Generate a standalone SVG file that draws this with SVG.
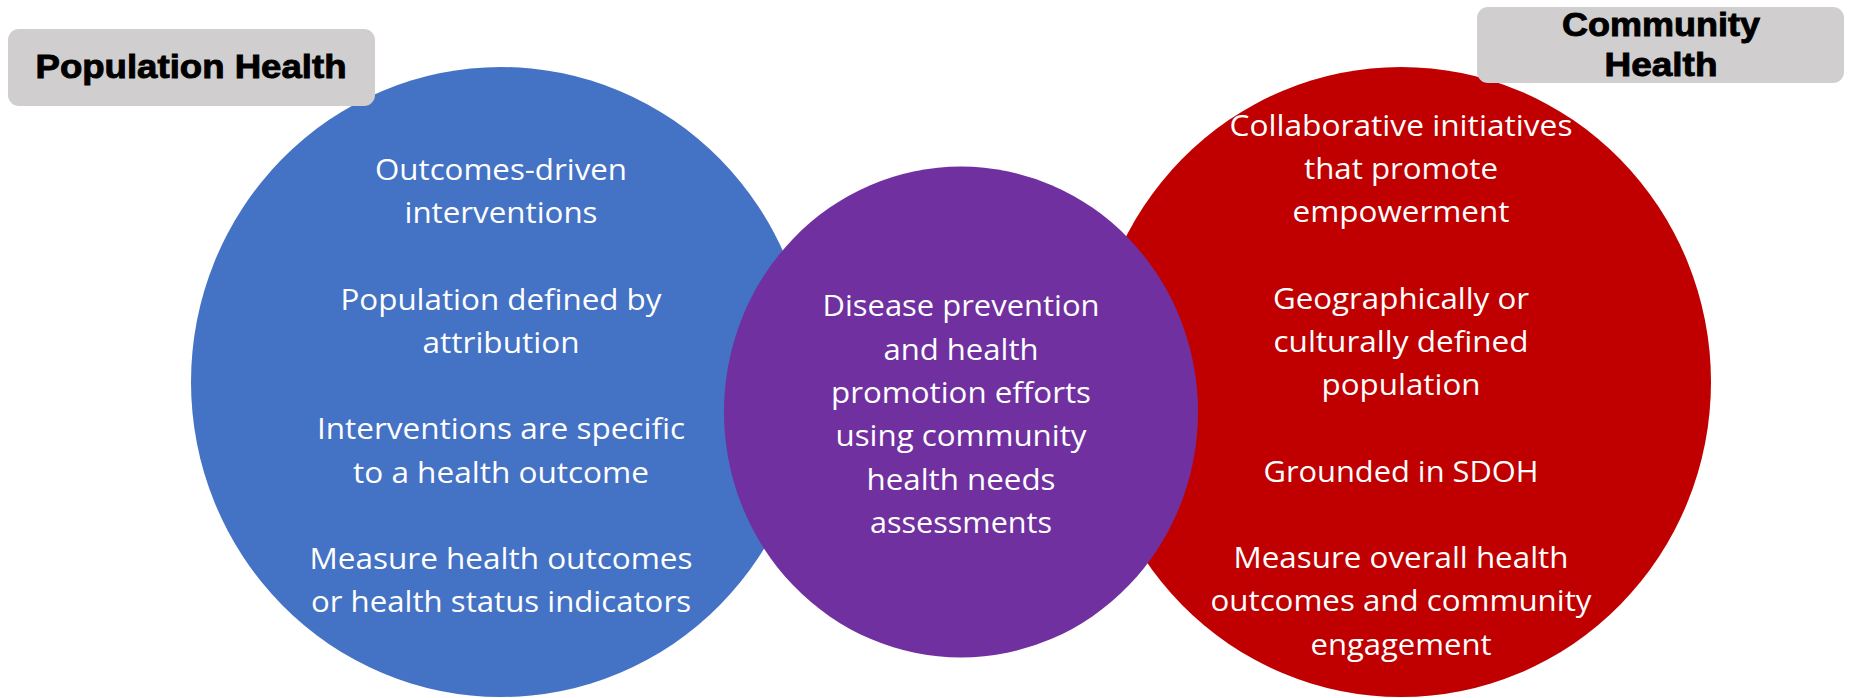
<svg xmlns="http://www.w3.org/2000/svg" width="1851" height="698" viewBox="0 0 1851 698">
<style>
.t{font-family:"Open Sans","Liberation Sans",sans-serif;font-size:29px;fill:#ffffff;text-anchor:middle}
.h{font-family:"Liberation Sans",Arial,sans-serif;font-weight:bold;font-size:33px;fill:#000000;stroke:#000000;stroke-width:0.9;text-anchor:middle}
.box{fill:#D0CECE}
</style>
<rect width="1851" height="698" fill="#ffffff"/>
<g id="population-health-circle">
<ellipse cx="501" cy="382" rx="310" ry="315" fill="#4472C4"/>
<text class="t" x="501" y="180" textLength="252" lengthAdjust="spacingAndGlyphs">Outcomes-driven</text>
<text class="t" x="501" y="223" textLength="193" lengthAdjust="spacingAndGlyphs">interventions</text>
<text class="t" x="501" y="309.5" textLength="321" lengthAdjust="spacingAndGlyphs">Population defined by</text>
<text class="t" x="501" y="352.5" textLength="157" lengthAdjust="spacingAndGlyphs">attribution</text>
<text class="t" x="501" y="439" textLength="368" lengthAdjust="spacingAndGlyphs">Interventions are specific</text>
<text class="t" x="501" y="482.5" textLength="296" lengthAdjust="spacingAndGlyphs">to a health outcome</text>
<text class="t" x="501" y="568.5" textLength="383" lengthAdjust="spacingAndGlyphs">Measure health outcomes</text>
<text class="t" x="501" y="612" textLength="380" lengthAdjust="spacingAndGlyphs">or health status indicators</text>
</g>
<g id="community-health-circle">
<ellipse cx="1401" cy="382" rx="310" ry="315" fill="#C00000"/>
<text class="t" x="1401" y="136" textLength="343" lengthAdjust="spacingAndGlyphs">Collaborative initiatives</text>
<text class="t" x="1401" y="179" textLength="194" lengthAdjust="spacingAndGlyphs">that promote</text>
<text class="t" x="1401" y="222" textLength="217" lengthAdjust="spacingAndGlyphs">empowerment</text>
<text class="t" x="1401" y="308.5" textLength="256" lengthAdjust="spacingAndGlyphs">Geographically or</text>
<text class="t" x="1401" y="352" textLength="255" lengthAdjust="spacingAndGlyphs">culturally defined</text>
<text class="t" x="1401" y="395" textLength="159" lengthAdjust="spacingAndGlyphs">population</text>
<text class="t" x="1401" y="481.5" textLength="275" lengthAdjust="spacingAndGlyphs">Grounded in SDOH</text>
<text class="t" x="1401" y="568" textLength="335" lengthAdjust="spacingAndGlyphs">Measure overall health</text>
<text class="t" x="1401" y="611" textLength="381" lengthAdjust="spacingAndGlyphs">outcomes and community</text>
<text class="t" x="1401" y="654.5" textLength="181" lengthAdjust="spacingAndGlyphs">engagement</text>
</g>
<g id="overlap-circle">
<ellipse cx="961" cy="412" rx="237" ry="245.5" fill="#7030A0"/>
<text class="t" x="961" y="316" textLength="277" lengthAdjust="spacingAndGlyphs">Disease prevention</text>
<text class="t" x="961" y="359.5" textLength="155" lengthAdjust="spacingAndGlyphs">and health</text>
<text class="t" x="961" y="402.5" textLength="260" lengthAdjust="spacingAndGlyphs">promotion efforts</text>
<text class="t" x="961" y="446" textLength="251" lengthAdjust="spacingAndGlyphs">using community</text>
<text class="t" x="961" y="489.5" textLength="189" lengthAdjust="spacingAndGlyphs">health needs</text>
<text class="t" x="961" y="532.5" textLength="182" lengthAdjust="spacingAndGlyphs">assessments</text>
</g>
<g id="population-health-label">
<rect class="box" x="8" y="29" width="367" height="77" rx="11"/>
<text class="h" x="191" y="78" textLength="311" lengthAdjust="spacingAndGlyphs">Population Health</text>
</g>
<g id="community-health-label">
<rect class="box" x="1477" y="7" width="367" height="76" rx="11"/>
<text class="h" x="1661" y="36" textLength="198" lengthAdjust="spacingAndGlyphs">Community</text>
<text class="h" x="1661" y="76" textLength="113" lengthAdjust="spacingAndGlyphs">Health</text>
</g>
<g id="connectors"></g>
</svg>
